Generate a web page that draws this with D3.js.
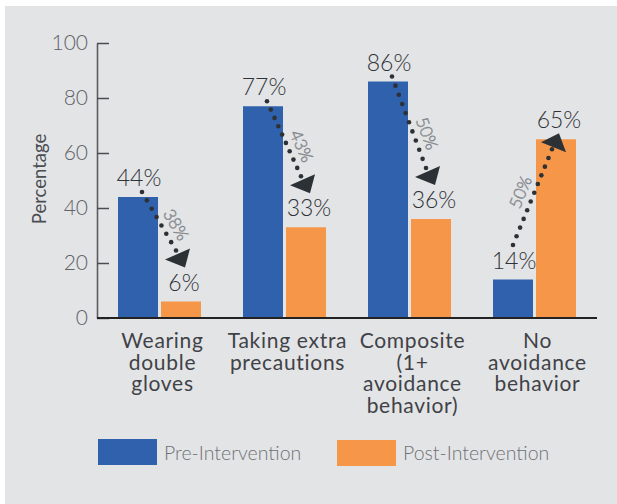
<!DOCTYPE html>
<html>
<head>
<meta charset="utf-8">
<script src="https://cdn.jsdelivr.net/npm/d3@7"></script>
<style>
  body { margin: 0; background: #fff; }
  text { font-family: Lato, "Open Sans", sans-serif; }
</style>
</head>
<body>
<div id="chart"></div>
<script>
// chart data
const categories = [
  ["Wearing", "double", "gloves"],
  ["Taking extra", "precautions"],
  ["Composite", "(1+", "avoidance", "behavior)"],
  ["No", "avoidance", "behavior"]
];
const series = ["Pre-Intervention", "Post-Intervention"];
const preValues = [44, 77, 86, 14];
const postValues = [6, 33, 36, 65];
const changeLabels = ["38%", "43%", "50%", "50%"];
const yTicks = [0, 20, 40, 60, 80, 100];
const colors = ["#3061ad", "#f69649"];

const W = 617, H = 504;

const svg = d3.select('#chart')
  .append('svg')
  .attr('width', W)
  .attr('height', H);

// grey panel
svg.append('rect')
  .attr('x', 5).attr('y', 6)
  .attr('width', W - 5).attr('height', H - 6)
  .attr('fill', '#e3e4e6');

const x = d3.scaleBand()
  .domain(d3.range(categories.length))
  .range([97, 597])
  .paddingInner(0.336)
  .paddingOuter(0.168);

const xSub = d3.scaleBand()
  .domain([0, 1])
  .range([0, x.bandwidth()])
  .paddingInner(3 / 43);

const y = d3.scaleLinear()
  .domain([0, 100])
  .range([318, 43]);

const data = categories.map((c, i) => ({ i, pre: preValues[i], post: postValues[i], change: changeLabels[i] }));

// y axis
const yAxis = svg.append('g')
  .attr('transform', 'translate(97,0)')
  .call(d3.axisLeft(y).tickValues(yTicks).tickSizeInner(-12).tickSizeOuter(0).tickPadding(9));
yAxis.select('.domain').attr('stroke', '#5a5c60').attr('stroke-width', 1.6);
yAxis.selectAll('.tick line').attr('stroke', '#4a4c50').attr('stroke-width', 1.5);
yAxis.selectAll('.tick text')
  .attr('font-size', 21)
  .attr('font-weight', 300)
  .attr('fill', '#5f6267')
  .attr('font-family', 'Lato, sans-serif');

svg.append('text')
  .attr('transform', 'translate(46,179) rotate(-90)')
  .attr('text-anchor', 'middle')
  .attr('font-size', 18.5)
  .attr('fill', '#4a4d52')
  .text('Percentage');

// bars
const groups = svg.selectAll('.group')
  .data(data)
  .enter()
  .append('g')
  .attr('class', 'group')
  .attr('transform', d => `translate(${x(d.i)},0)`);

groups.selectAll('rect')
  .data(d => [d.pre, d.post])
  .enter()
  .append('rect')
  .attr('x', (v, j) => xSub(j))
  .attr('width', xSub.bandwidth())
  .attr('y', v => y(v))
  .attr('height', v => y(0) - y(v))
  .attr('fill', (v, j) => colors[j]);

// value labels
groups.selectAll('.val')
  .data(d => [d.pre, d.post])
  .enter()
  .append('text')
  .attr('class', 'val')
  .attr('x', (v, j) => xSub(j) + xSub.bandwidth() / 2 + (j ? 3 : 1))
  .attr('y', v => y(v) - 11)
  .attr('text-anchor', 'middle')
  .attr('font-size', 23)
  .attr('font-weight', 300)
  .attr('fill', '#2f3237')
  .text(v => v + '%');

// x baseline
svg.append('line')
  .attr('x1', 97).attr('x2', 597)
  .attr('y1', y(0)).attr('y2', y(0))
  .attr('stroke', '#222').attr('stroke-width', 2);

// category labels
const catLabels = svg.selectAll('.cat')
  .data(data)
  .enter()
  .append('text')
  .attr('class', 'cat')
  .attr('text-anchor', 'middle')
  .attr('font-size', 21)
  .attr('letter-spacing', 0.7)
  .attr('fill', '#3f4247');
catLabels.selectAll('tspan')
  .data(d => categories[d.i].map(t => ({ t, cx: x(d.i) + x.bandwidth() / 2 + 3 })))
  .enter()
  .append('tspan')
  .attr('x', d => d.cx)
  .attr('y', (d, k) => 348 + k * 21.5)
  .text(d => d.t);

// dotted change arrows
const decTri = [[-15, 1], [10, -10], [5, 9]];
const incTri = [[-14, 0], [4, -9], [11, 10]];

data.forEach(d => {
  const cPre = x(d.i) + xSub(0) + xSub.bandwidth() / 2;
  const cPost = x(d.i) + xSub(1) + xSub.bandwidth() / 2;
  const down = d.post < d.pre;
  let start, head, last, tri;
  if (down) {
    start = [cPre + 4, y(d.pre) - 5];
    head = [cPost - 1, y(d.post) - 43];
    last = [head[0] - 4, head[1] - 8];
    tri = decTri;
  } else {
    start = [cPre, y(d.pre) - 34.5];
    head = [cPost - 1, y(d.post) + 3];
    last = [head[0] - 3, head[1] + 7];
    tri = incTri;
  }
  const dx = last[0] - start[0], dy = last[1] - start[1];
  const len = Math.hypot(dx, dy);
  const n = Math.round(len / 9.3);
  svg.append('g').selectAll('circle')
    .data(d3.range(n + 1))
    .enter()
    .append('circle')
    .attr('cx', k => start[0] + dx * k / n)
    .attr('cy', k => start[1] + dy * k / n)
    .attr('r', 2.3)
    .attr('fill', '#2c3136');

  svg.append('path')
    .attr('d', 'M' + tri.map(p => [head[0] + p[0], head[1] + p[1]].join(',')).join('L') + 'Z')
    .attr('fill', '#2c3136');

  const t = down ? 0.67 : 0.5;
  const ang = Math.atan2(dy, dx) * 180 / Math.PI;
  svg.append('text')
    .attr('transform', `translate(${start[0] + dx * t},${start[1] + dy * t}) rotate(${ang})`)
    .attr('dy', -7)
    .attr('text-anchor', 'middle')
    .attr('font-size', 17)
    .attr('font-weight', 300)
    .attr('fill', '#d9dadd')
    .attr('stroke', '#86898e')
    .attr('stroke-width', 0.6)
    .text(d.change);
});

// legend
const legend = svg.append('g');
series.forEach((s, j) => {
  const lx = j ? 337 : 98;
  legend.append('rect')
    .attr('x', lx).attr('y', 439 + j)
    .attr('width', 59).attr('height', 26)
    .attr('fill', colors[j]);
  legend.append('text')
    .attr('x', lx + 66).attr('y', 460)
    .attr('font-size', 19.5)
    .attr('font-weight', 300)
    .attr('fill', '#6f7277')
    .text(s);
});
</script>
</body>
</html>
